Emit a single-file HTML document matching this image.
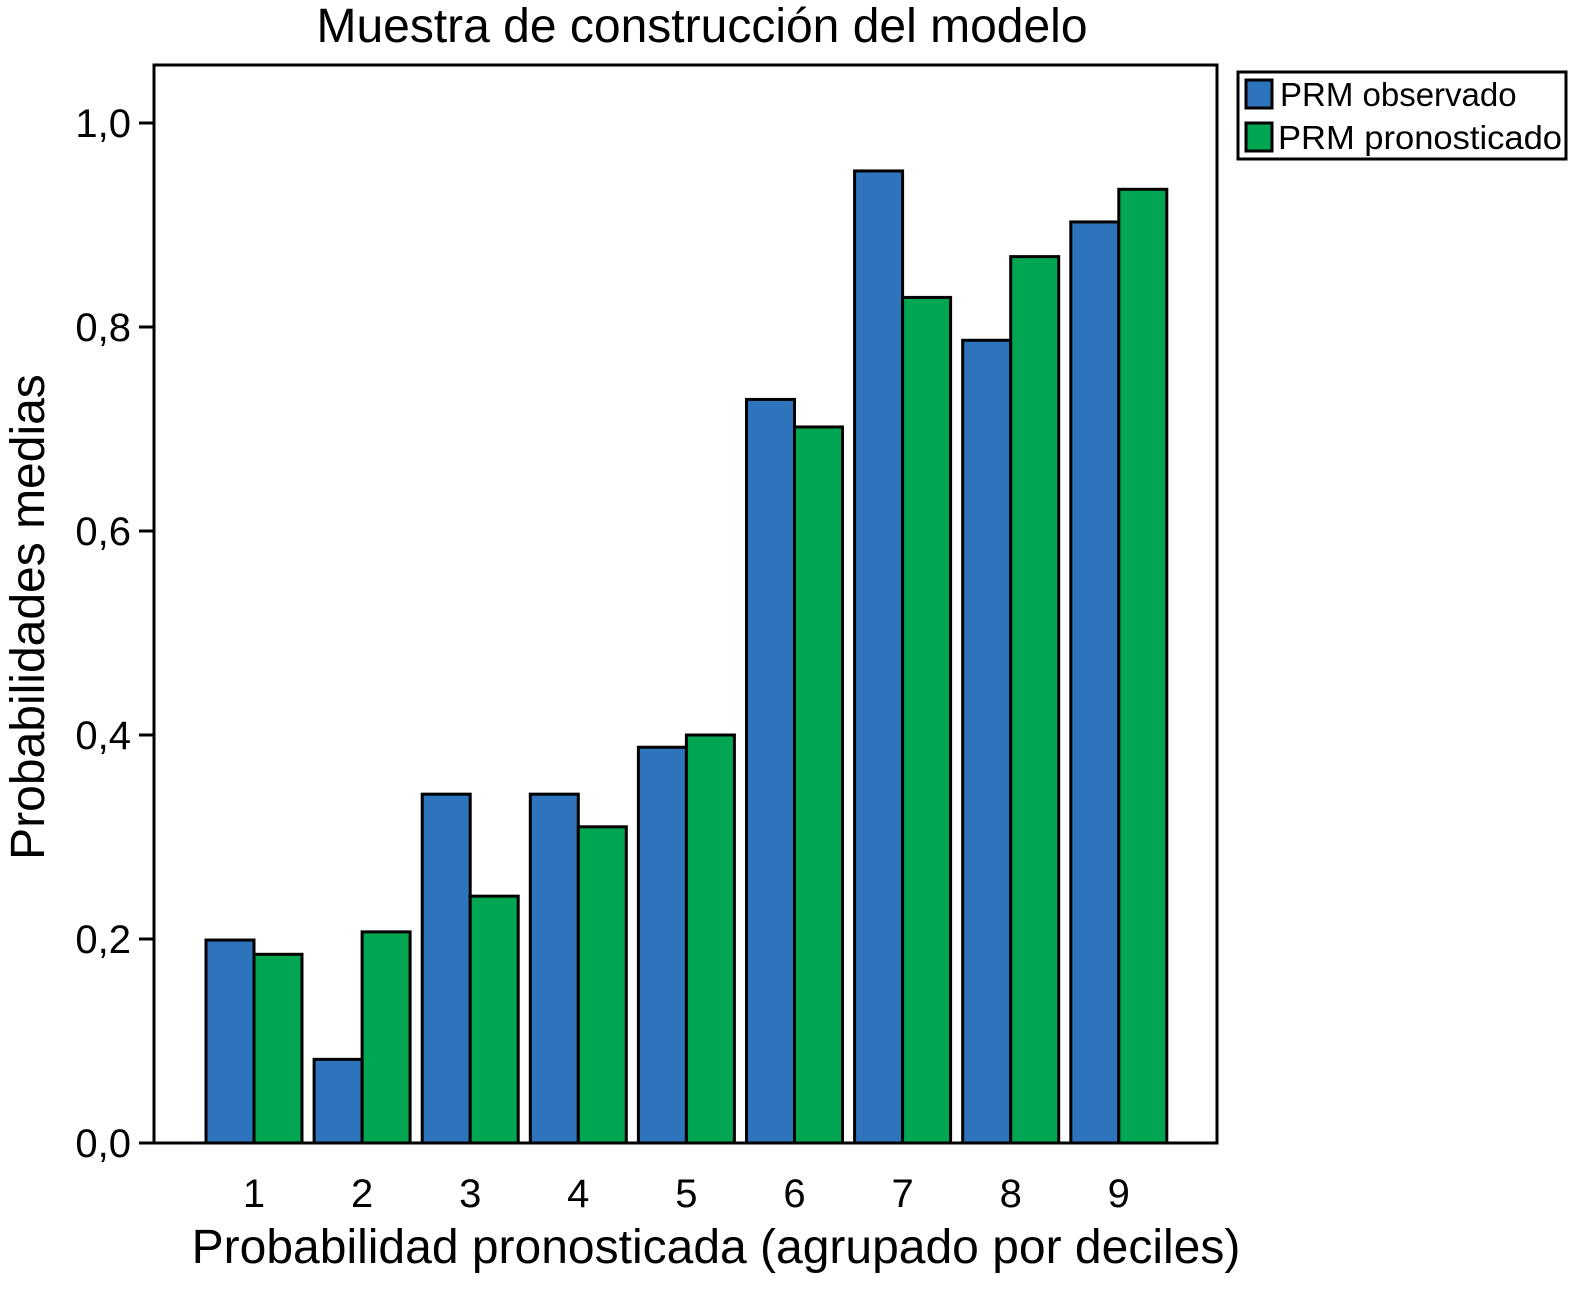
<!DOCTYPE html>
<html><head><meta charset="utf-8"><style>
body{margin:0;background:#fff;}
svg text{font-family:"Liberation Sans",sans-serif;fill:#000;}
</style></head><body>
<svg id="chart" width="1574" height="1290" xmlns="http://www.w3.org/2000/svg">
<text x="702" y="42" font-size="48" text-anchor="middle">Muestra de construcción del modelo</text>
<g id="bars"></g>
<rect x="154" y="65" width="1063" height="1078" fill="none" stroke="#000" stroke-width="3"/>
<g id="yaxis"></g>
<g id="xaxis"></g>
<text x="716" y="1263" font-size="48" text-anchor="middle">Probabilidad pronosticada (agrupado por deciles)</text>
<text transform="translate(44,617) rotate(-90)" font-size="48" text-anchor="middle">Probabilidades medias</text>
<g>
<rect x="1238" y="72" width="328" height="87" fill="#fff" stroke="#000" stroke-width="3"/>
<rect x="1246" y="80" width="26" height="28" fill="#2e74bc" stroke="#000" stroke-width="3"/>
<text x="1280" y="106" font-size="33">PRM observado</text>
<rect x="1246" y="123" width="26" height="28" fill="#00a651" stroke="#000" stroke-width="3"/>
<text x="1278" y="149" font-size="33" textLength="284" lengthAdjust="spacingAndGlyphs">PRM pronosticado</text>
</g>
</svg>
<script>
const categories=["1","2","3","4","5","6","7","8","9"];
const observed=[0.199,0.082,0.342,0.342,0.388,0.729,0.953,0.787,0.903];
const predicted=[0.185,0.207,0.242,0.31,0.4,0.702,0.829,0.869,0.935];
const yTicks=[0,0.2,0.4,0.6,0.8,1.0];
const yTickLabels=["0,0","0,2","0,4","0,6","0,8","1,0"];
const NS="http://www.w3.org/2000/svg";
const y=v=>1143-v*1020;
const xc=i=>254+i*108.1;
const bw=48;
function mk(t,a,p){const e=document.createElementNS(NS,t);for(const k in a)e.setAttribute(k,a[k]);p.appendChild(e);return e;}
const bars=document.getElementById('bars');
categories.forEach((c,i)=>{
 const b=mk('rect',{x:xc(i)-bw,y:y(observed[i]),width:bw,height:y(0)-y(observed[i]),fill:'#2e74bc',stroke:'#000','stroke-width':3},bars);
 
 
 const g=mk('rect',{x:xc(i),y:y(predicted[i]),width:bw,height:y(0)-y(predicted[i]),fill:'#00a651',stroke:'#000','stroke-width':3},bars);
 
 
 const t=mk('text',{x:xc(i),y:1207,'font-size':40,'text-anchor':'middle'},document.getElementById('xaxis'));
 t.textContent=c;
 
 
});
const ya=document.getElementById('yaxis');
yTicks.forEach((v,i)=>{
 const l=mk('line',{x1:139,x2:154,y1:y(v),y2:y(v),stroke:'#000','stroke-width':3},ya);
 
 
 const t=mk('text',{x:131,y:y(v)+14,'font-size':40,'text-anchor':'end'},ya);
 t.textContent=yTickLabels[i];
 
 
});
</script>
</body></html>
